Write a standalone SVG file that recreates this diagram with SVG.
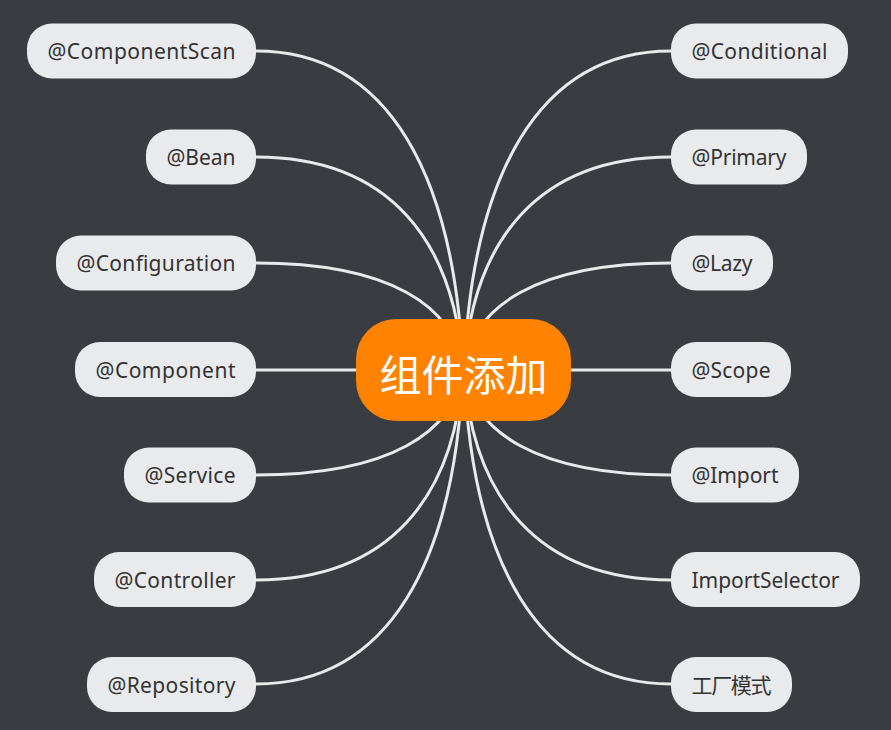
<svg xmlns="http://www.w3.org/2000/svg" width="891" height="730" viewBox="0 0 891 730">
<style>
.bg{fill:#393C41}
.link{fill:none;stroke:#E9EAEB;stroke-width:3;stroke-linecap:round}
.box{fill:#E9EAEB}
.lbl{font-family:"Noto Sans","Noto Sans CJK SC",sans-serif;font-size:21px;fill:#333333;text-anchor:middle}
.root{fill:#FF8200}
.rootlbl{font-family:"Noto Sans CJK SC","Noto Sans",sans-serif;font-size:42px;fill:#FFFFFF;text-anchor:middle}
</style>
<rect class="bg" x="0" y="0" width="891" height="730"/>
<g id="connectors">
<path class="link" d="M256,51 C390,51 455,178 463,370"/>
<path class="link" d="M256,157 C390,157 455,242 463,370"/>
<path class="link" d="M256,263 C390,263 455,306 463,370"/>
<path class="link" d="M256,370 L400,370"/>
<path class="link" d="M256,475 C390,475 455,432 463,370"/>
<path class="link" d="M256,580 C390,580 455,496 463,370"/>
<path class="link" d="M256,684 C390,684 455,560 463,370"/>
<path class="link" d="M671,51 C537,51 472,178 464,370"/>
<path class="link" d="M671,157 C537,157 472,242 464,370"/>
<path class="link" d="M671,263 C537,263 472,306 464,370"/>
<path class="link" d="M671,370 L520,370"/>
<path class="link" d="M671,475 C537,475 472,432 464,370"/>
<path class="link" d="M671,580 C537,580 472,496 464,370"/>
<path class="link" d="M671,684 C537,684 472,560 464,370"/>
</g>
<g id="root"><rect class="root" x="356" y="319" width="215" height="102" rx="40"/><text class="rootlbl" x="463.5" y="391" textLength="168" lengthAdjust="spacing">组件添加</text></g>
<g id="n-componentscan"><rect class="box" x="27" y="23.5" width="229" height="55" rx="25"/><text class="lbl" x="141.5" y="59" textLength="188" lengthAdjust="spacing">@ComponentScan</text></g>
<g id="n-bean"><rect class="box" x="146" y="129.5" width="110" height="55" rx="25"/><text class="lbl" x="201" y="165" textLength="69" lengthAdjust="spacing">@Bean</text></g>
<g id="n-configuration"><rect class="box" x="56" y="235.5" width="200" height="55" rx="25"/><text class="lbl" x="156" y="271" textLength="159" lengthAdjust="spacing">@Configuration</text></g>
<g id="n-component"><rect class="box" x="75" y="342" width="181" height="55" rx="25"/><text class="lbl" x="165.5" y="378" textLength="140" lengthAdjust="spacing">@Component</text></g>
<g id="n-service"><rect class="box" x="124" y="447.5" width="132" height="55" rx="25"/><text class="lbl" x="190" y="483" textLength="91" lengthAdjust="spacing">@Service</text></g>
<g id="n-controller"><rect class="box" x="94" y="552" width="162" height="55" rx="25"/><text class="lbl" x="175" y="588" textLength="121" lengthAdjust="spacing">@Controller</text></g>
<g id="n-repository"><rect class="box" x="87" y="657" width="169" height="55" rx="25"/><text class="lbl" x="171.5" y="692.5" textLength="128" lengthAdjust="spacing">@Repository</text></g>
<g id="n-conditional"><rect class="box" x="671" y="23.5" width="177" height="55" rx="25"/><text class="lbl" x="759.5" y="59" textLength="136" lengthAdjust="spacing">@Conditional</text></g>
<g id="n-primary"><rect class="box" x="671" y="129.5" width="136" height="55" rx="25"/><text class="lbl" x="739" y="165" textLength="95" lengthAdjust="spacing">@Primary</text></g>
<g id="n-lazy"><rect class="box" x="671" y="235.5" width="102" height="55" rx="25"/><text class="lbl" x="722" y="271" textLength="61" lengthAdjust="spacing">@Lazy</text></g>
<g id="n-scope"><rect class="box" x="671" y="342" width="120" height="55" rx="25"/><text class="lbl" x="731" y="378" textLength="79" lengthAdjust="spacing">@Scope</text></g>
<g id="n-import"><rect class="box" x="671" y="447.5" width="128" height="55" rx="25"/><text class="lbl" x="735" y="483" textLength="87" lengthAdjust="spacing">@Import</text></g>
<g id="n-importselector"><rect class="box" x="671" y="552" width="189" height="55" rx="25"/><text class="lbl" x="765.5" y="588" textLength="148" lengthAdjust="spacing">ImportSelector</text></g>
<g id="n-factory"><rect class="box" x="671" y="657" width="121" height="55" rx="25"/><text class="lbl" x="731.5" y="692.5" textLength="80" lengthAdjust="spacing">工厂模式</text></g>
</svg>
